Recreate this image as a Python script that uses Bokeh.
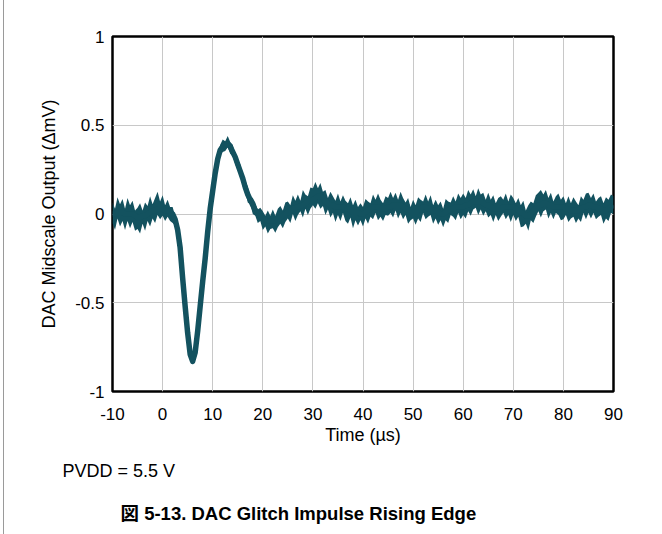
from bokeh.plotting import figure
from bokeh.models import Range1d, FixedTicker, Title
from bokeh.embed import file_html
from bokeh.resources import INLINE

# ---- data ----
x_ticks = [-10, 0, 10, 20, 30, 40, 50, 60, 70, 80, 90]
x_tick_labels = {t: str(t) for t in x_ticks}
y_ticks = [-1, -0.5, 0, 0.5, 1]
y_tick_labels = {-1: "-1", -0.5: "-0.5", 0: "0", 0.5: "0.5", 1: "1"}

time_us = [round(-10 + 0.5 * i, 1) for i in range(201)]
# smoothed trace centre (mV), every 0.5 us
center_mv = [
    0.0, 0.0, 0.01, 0.01, 0.01, 0.0, 0.0, 0.0, 0.0, -0.01,
    -0.02, -0.02, -0.01, -0.01, 0.0, 0.01, 0.02, 0.02, 0.03, 0.03,
    0.03, 0.02, 0.02, 0.01, 0.0, -0.03, -0.09, -0.19, -0.36, -0.52,
    -0.67, -0.79, -0.83, -0.78, -0.66, -0.52, -0.38, -0.25, -0.10, 0.03,
    0.13, 0.23, 0.31, 0.36, 0.38, 0.39, 0.395, 0.38, 0.35, 0.32,
    0.28, 0.24, 0.20, 0.15, 0.11, 0.08, 0.05, 0.02, 0.0, -0.01,
    -0.03, -0.035, -0.04, -0.04, -0.04, -0.035, -0.03, -0.02, -0.01, 0.0,
    0.01, 0.02, 0.03, 0.035, 0.04, 0.045, 0.05, 0.06, 0.07, 0.075,
    0.08, 0.09, 0.10, 0.10, 0.09, 0.07, 0.06, 0.05, 0.05, 0.04,
    0.04, 0.04, 0.04, 0.03, 0.03, 0.02, 0.01, 0.01, 0.01, 0.0,
    0.0, 0.01, 0.02, 0.03, 0.04, 0.04, 0.04, 0.03, 0.03, 0.03,
    0.04, 0.04, 0.05, 0.05, 0.05, 0.05, 0.04, 0.03, 0.02, 0.01,
    0.01, 0.01, 0.02, 0.03, 0.04, 0.04, 0.03, 0.03, 0.02, 0.02,
    0.01, 0.0, 0.0, 0.01, 0.02, 0.03, 0.03, 0.04, 0.04, 0.04,
    0.04, 0.05, 0.05, 0.06, 0.07, 0.07, 0.07, 0.07, 0.06, 0.05,
    0.05, 0.04, 0.03, 0.03, 0.03, 0.03, 0.04, 0.04, 0.04, 0.04,
    0.04, 0.03, 0.02, 0.01, 0.0, -0.01, -0.01, 0.0, 0.02, 0.03,
    0.05, 0.05, 0.06, 0.06, 0.05, 0.05, 0.04, 0.04, 0.04, 0.04,
    0.04, 0.03, 0.03, 0.02, 0.02, 0.02, 0.02, 0.03, 0.04, 0.04,
    0.05, 0.05, 0.04, 0.04, 0.03, 0.03, 0.02, 0.02, 0.03, 0.04,
    0.05,
]
# upper noise excursion above the centre (mV)
noise_up_mv = [
    0.065, 0.03, 0.085, 0.045, 0.075, 0.03, 0.09, 0.05, 0.075, 0.03,
    0.055, 0.08, 0.03, 0.075, 0.045, 0.09, 0.035, 0.07, 0.095, 0.04,
    0.075, 0.03, 0.06, 0.03, 0.04, 0.02, 0.015, 0.012, 0.012, 0.012,
    0.012, 0.012, 0.012, 0.012, 0.012, 0.012, 0.012, 0.012, 0.012, 0.012,
    0.02, 0.02, 0.025, 0.03, 0.04, 0.02, 0.045, 0.025, 0.04, 0.02,
    0.03, 0.04, 0.02, 0.04, 0.045, 0.02, 0.04, 0.045, 0.025, 0.045,
    0.045, 0.025, 0.06, 0.03, 0.065, 0.025, 0.06, 0.065, 0.03, 0.065,
    0.06, 0.03, 0.075, 0.04, 0.07, 0.03, 0.085, 0.05, 0.03, 0.075,
    0.065, 0.09, 0.045, 0.075, 0.035, 0.065, 0.03, 0.075, 0.05, 0.035,
    0.075, 0.03, 0.065, 0.045, 0.03, 0.075, 0.04, 0.07, 0.03, 0.06,
    0.04, 0.075, 0.05, 0.03, 0.07, 0.04, 0.075, 0.05, 0.03, 0.07,
    0.05, 0.085, 0.04, 0.07, 0.03, 0.075, 0.05, 0.035, 0.07, 0.03,
    0.07, 0.04, 0.075, 0.05, 0.03, 0.07, 0.04, 0.075, 0.03, 0.06,
    0.04, 0.07, 0.03, 0.075, 0.05, 0.035, 0.07, 0.03, 0.075, 0.05,
    0.075, 0.04, 0.085, 0.05, 0.07, 0.03, 0.075, 0.04, 0.06, 0.03,
    0.07, 0.04, 0.075, 0.03, 0.06, 0.07, 0.04, 0.075, 0.03, 0.07,
    0.05, 0.03, 0.07, 0.04, 0.075, 0.03, 0.06, 0.07, 0.04, 0.075,
    0.07, 0.085, 0.05, 0.075, 0.04, 0.07, 0.03, 0.06, 0.075, 0.04,
    0.06, 0.03, 0.07, 0.04, 0.075, 0.05, 0.03, 0.07, 0.04, 0.075,
    0.07, 0.04, 0.075, 0.03, 0.06, 0.07, 0.04, 0.075, 0.05, 0.07,
    0.05,
]
# lower noise excursion below the centre (mV)
noise_dn_mv = [
    0.05, 0.09, 0.035, 0.08, 0.05, 0.09, 0.04, 0.08, 0.045, 0.085,
    0.065, 0.09, 0.045, 0.085, 0.04, 0.08, 0.045, 0.07, 0.035, 0.06,
    0.04, 0.06, 0.035, 0.05, 0.05, 0.035, 0.02, 0.015, 0.012, 0.012,
    0.012, 0.012, 0.012, 0.012, 0.012, 0.012, 0.012, 0.012, 0.012, 0.012,
    0.012, 0.02, 0.02, 0.025, 0.03, 0.035, 0.02, 0.04, 0.025, 0.04,
    0.035, 0.02, 0.045, 0.025, 0.045, 0.025, 0.05, 0.03, 0.05, 0.03,
    0.06, 0.035, 0.07, 0.045, 0.04, 0.07, 0.045, 0.035, 0.07, 0.045,
    0.035, 0.07, 0.03, 0.075, 0.045, 0.03, 0.07, 0.03, 0.075, 0.045,
    0.03, 0.06, 0.04, 0.07, 0.045, 0.075, 0.035, 0.07, 0.045, 0.085,
    0.045, 0.08, 0.035, 0.07, 0.085, 0.04, 0.09, 0.045, 0.075, 0.035,
    0.07, 0.035, 0.075, 0.045, 0.07, 0.035, 0.075, 0.045, 0.07, 0.035,
    0.05, 0.035, 0.07, 0.03, 0.075, 0.045, 0.07, 0.035, 0.075, 0.045,
    0.035, 0.07, 0.045, 0.075, 0.035, 0.07, 0.045, 0.035, 0.075, 0.045,
    0.07, 0.035, 0.075, 0.045, 0.07, 0.035, 0.045, 0.075, 0.035, 0.07,
    0.045, 0.075, 0.035, 0.07, 0.045, 0.035, 0.075, 0.045, 0.07, 0.035,
    0.07, 0.045, 0.075, 0.035, 0.07, 0.045, 0.035, 0.07, 0.045, 0.085,
    0.045, 0.07, 0.035, 0.085, 0.07, 0.045, 0.085, 0.035, 0.07, 0.045,
    0.035, 0.07, 0.045, 0.035, 0.075, 0.045, 0.07, 0.035, 0.045, 0.075,
    0.07, 0.035, 0.075, 0.045, 0.035, 0.07, 0.045, 0.075, 0.035, 0.07,
    0.045, 0.075, 0.035, 0.07, 0.045, 0.035, 0.075, 0.045, 0.07, 0.035,
    0.05,
]

x_title = "Time (µs)"
y_title = "DAC Midscale Output (ΔmV)"
note_text = "PVDD = 5.5 V"
caption_text = "図 5-13. DAC Glitch Impulse Rising Edge"

FONT = "Liberation Sans, Arial, Noto Sans CJK JP"
LINE_COLOR = "#13525f"

band_top = [c + u for c, u in zip(center_mv, noise_up_mv)]
band_bot = [c - d for c, d in zip(center_mv, noise_dn_mv)]

p = figure(
    width=650, height=534,
    x_range=Range1d(-10, 90), y_range=Range1d(-1, 1),
    output_backend="svg", toolbar_location=None,
    min_border_left=108, min_border_right=41,
    min_border_top=36, min_border_bottom=143,
)
p.styles = {"margin-left": "3px", "border-left": "1px solid #9a9a9a"}

p.varea(x=time_us, y1=band_bot, y2=band_top, fill_color=LINE_COLOR)
p.line(time_us, center_mv, line_color=LINE_COLOR, line_width=5.5, line_join="round")

p.outline_line_color = "black"
p.outline_line_width = 2.5
p.background_fill_color = "white"
p.border_fill_color = "white"

for ax in (p.xaxis, p.yaxis):
    ax.axis_line_color = None
    ax.major_tick_line_color = None
    ax.minor_tick_line_color = None
    ax.major_tick_out = 0
    ax.major_tick_in = 0
    ax.minor_tick_out = 0
    ax.minor_tick_in = 0
    ax.major_label_text_font = FONT
    ax.major_label_text_font_size = "17px"
    ax.major_label_text_color = "black"
    ax.axis_label_text_font = FONT
    ax.axis_label_text_font_size = "18px"
    ax.axis_label_text_font_style = "normal"
    ax.axis_label_text_color = "black"

p.xaxis.ticker = FixedTicker(ticks=x_ticks)
p.yaxis.ticker = FixedTicker(ticks=y_ticks)
p.xaxis.major_label_overrides = x_tick_labels
p.yaxis.major_label_overrides = y_tick_labels
p.xaxis.axis_label = x_title
p.yaxis.axis_label = y_title
p.xaxis.major_label_standoff = 16
p.yaxis.major_label_standoff = 8
p.xaxis.axis_label_standoff = 2
p.yaxis.axis_label_standoff = 13

p.xgrid.ticker = FixedTicker(ticks=x_ticks)
p.ygrid.ticker = FixedTicker(ticks=y_ticks)
p.grid.grid_line_color = "#c8c8c8"
p.grid.grid_line_width = 1

p.add_layout(Title(text=note_text, align="left", offset=-50, standoff=22,
                   text_font=FONT, text_font_size="18px", text_font_style="normal",
                   text_color="black"), "below")
p.add_layout(Title(text=caption_text, align="left", offset=8, standoff=18,
                   text_font=FONT, text_font_size="18.5px", text_font_style="bold",
                   text_color="black"), "below")

open("out.html", "w").write(file_html(p, INLINE))
